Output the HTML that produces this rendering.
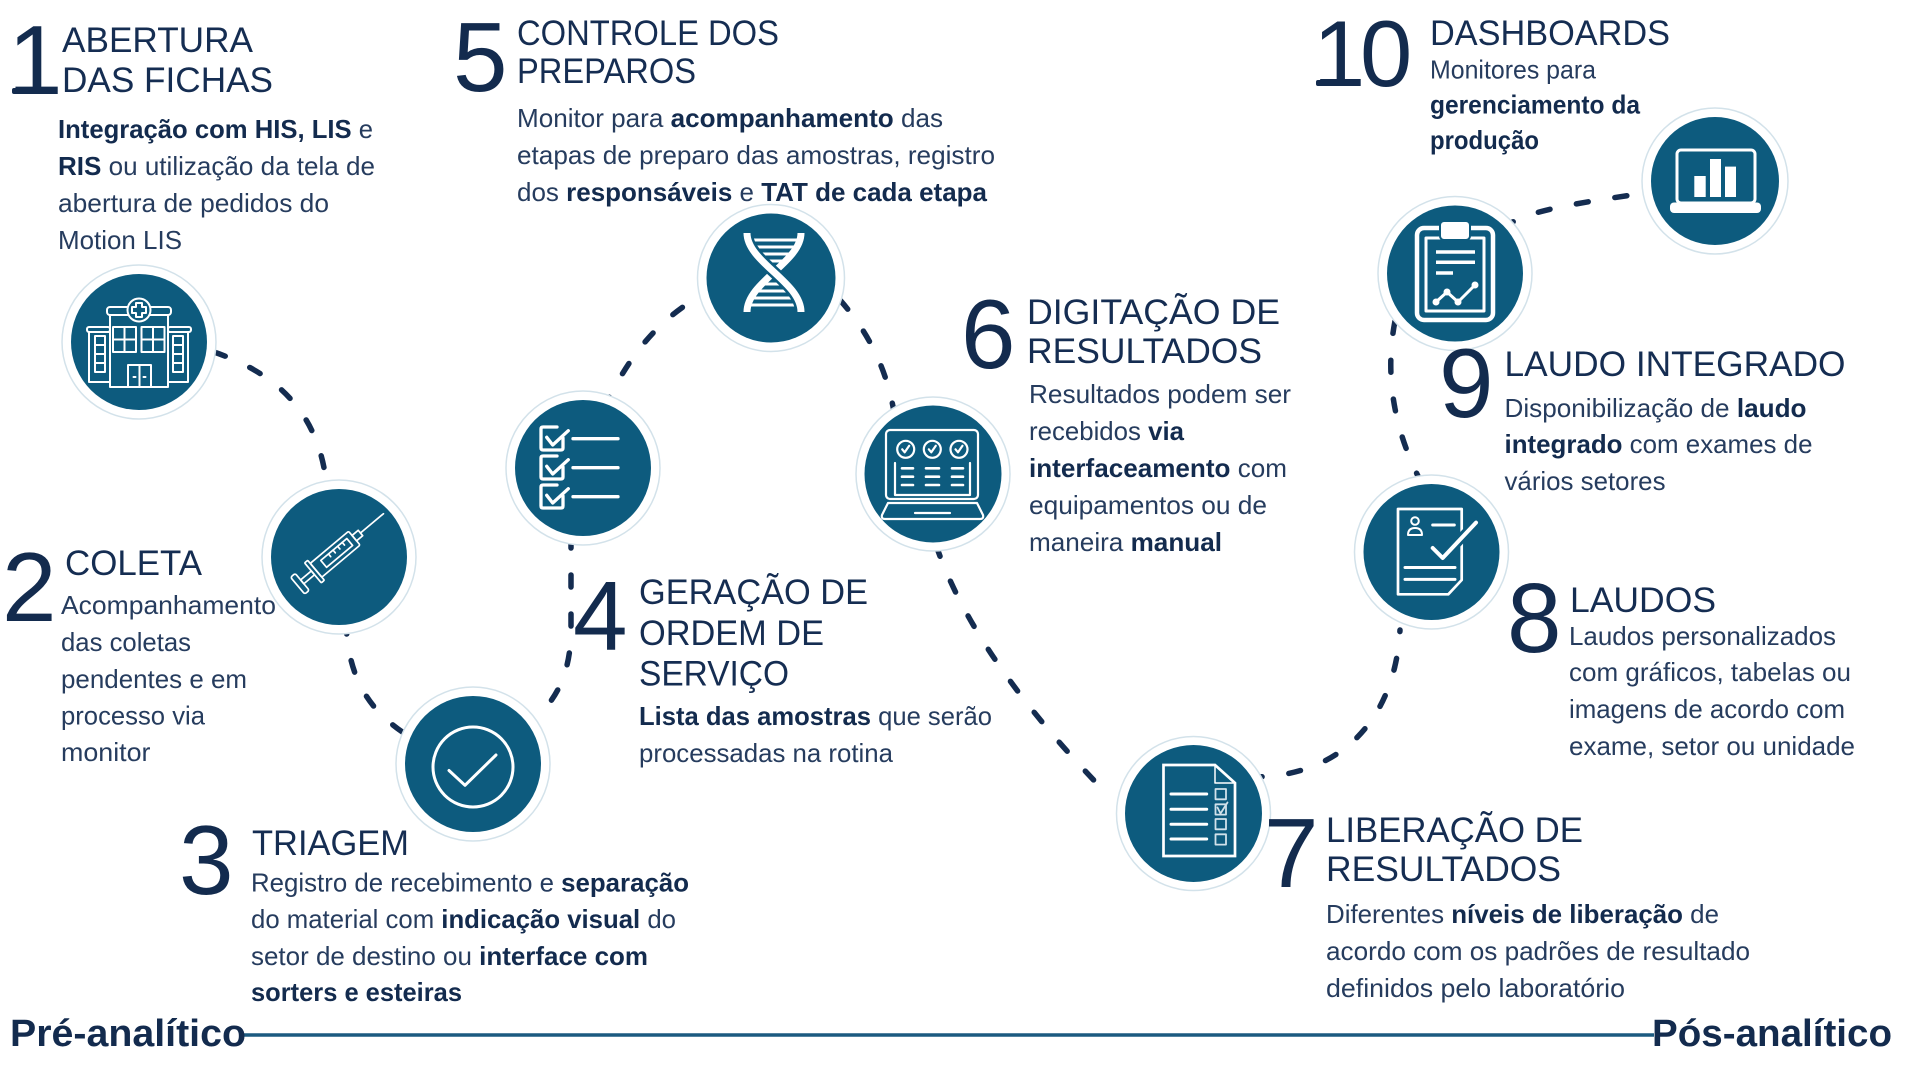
<!DOCTYPE html>
<html><head><meta charset="utf-8"><style>
html,body{margin:0;padding:0;background:#fff;width:1920px;height:1080px;overflow:hidden}
svg{display:block}
text{font-family:"Liberation Sans",Arial,sans-serif;fill:#132b4e}
.d{font-size:98px}
.t{font-size:35px;fill:#152d52}
.b{font-size:26px;fill:#263c5e}
.B{font-weight:bold;fill:#132b4e}
.f{font-size:38px;font-weight:bold}
.c{fill:none;stroke:#142c50;stroke-width:5.5;stroke-linecap:round;stroke-dasharray:12 27}
.w{fill:none;stroke:#fff;stroke-linecap:round;stroke-linejoin:round}
.ring{fill:#fff;stroke:#d3e2ea;stroke-width:1.5}
.tl{fill:#0d5b7e}
</style></head><body>
<svg width="1920" height="1080" viewBox="0 0 1920 1080" xmlns="http://www.w3.org/2000/svg">

<!-- connectors -->
<path class="c" d="M214,352 C260,368 320,400 327,490"/>
<path class="c" d="M346,622 C348,680 370,712 410,737"/>
<path class="c" d="M571,536 L571,628 C571,668 560,700 528,724"/>
<path class="c" d="M604,408 C625,365 650,325 700,296"/>
<path class="c" d="M840,300 C862,325 885,360 894,412"/>
<path class="c" d="M936,545 Q975,660 1112,799"/>
<path class="c" d="M1250,777 C1340,778 1395,720 1400,630"/>
<path class="c" d="M1422,484 Q1378,400 1396,316"/>
<path class="c" d="M1503,228 C1525,212 1560,205 1660,191"/>

<!-- circles -->
<circle class="ring" cx="139" cy="342" r="77"/><circle class="tl" cx="139" cy="342" r="68"/>
<circle class="ring" cx="339" cy="557" r="77"/><circle class="tl" cx="339" cy="557" r="68"/>
<circle class="ring" cx="473" cy="764" r="77"/><circle class="tl" cx="473" cy="764" r="68"/>
<circle class="ring" cx="583" cy="468" r="77"/><circle class="tl" cx="583" cy="468" r="68"/>
<circle class="ring" cx="771" cy="278" r="73.5"/><circle class="tl" cx="771" cy="278" r="64.5"/>
<circle class="ring" cx="933" cy="474" r="77"/><circle class="tl" cx="933" cy="474" r="68.5"/>
<circle class="ring" cx="1193.5" cy="813.5" r="77"/><circle class="tl" cx="1193.5" cy="813.5" r="68.5"/>
<circle class="ring" cx="1431.5" cy="552" r="77"/><circle class="tl" cx="1431.5" cy="552" r="68"/>
<circle class="ring" cx="1455" cy="273.5" r="77"/><circle class="tl" cx="1455" cy="273.5" r="68"/>
<circle class="ring" cx="1715" cy="181" r="73"/><circle class="tl" cx="1715" cy="181" r="64"/>

<!-- icon 1 hospital -->
<g class="w" stroke-width="2">
  <rect x="110" y="315" width="58" height="72"/>
  <rect x="107" y="307" width="64" height="8" rx="3"/>
  <rect x="113" y="327" width="23" height="25"/><path d="M124.5,327V352M113,339.5H136"/>
  <rect x="141.5" y="327" width="23" height="25"/><path d="M153,327V352M141.5,339.5H164.5"/>
  <rect x="89" y="332" width="21" height="50"/><rect x="87" y="327" width="23" height="5" rx="2"/>
  <rect x="168" y="332" width="20" height="50"/><rect x="168" y="327" width="23" height="5" rx="2"/>
  <rect x="95" y="336" width="10" height="36"/><path d="M95,345H105M95,354H105M95,363H105"/>
  <rect x="173" y="336" width="10" height="36"/><path d="M173,345H183M173,354H183M173,363H183"/>
  <rect x="128" y="365" width="23" height="22"/><path d="M139.5,365V387M133.5,377H135.5M143.5,377H145.5"/>
  <circle cx="139" cy="310" r="11.5" fill="#0d5b7e"/>
  <path d="M136,303H142V307H146V313H142V317H136V313H132V307H136Z"/>
</g>

<!-- icon 2 syringe -->
<g class="w" stroke-width="1.7" transform="translate(339,551) rotate(-40)">
  <line x1="28" y1="0" x2="58" y2="0"/>
  <rect x="20" y="-3.5" width="8" height="7"/>
  <rect x="-30" y="-9" width="50" height="18" rx="1.5"/>
  <rect x="-20" y="-4.5" width="34" height="9"/>
  <path d="M-10,-4.5V-1M-4,-4.5V-1M2,-4.5V-1M8,-4.5V-1"/>
  <rect x="-34" y="-13" width="4" height="26" rx="1"/>
  <rect x="-48" y="-2.5" width="14" height="5"/>
  <rect x="-54" y="-11" width="6" height="22" rx="2"/>
</g>

<!-- icon 3 check -->
<g class="w" stroke-width="3">
  <circle cx="473" cy="767" r="40"/>
  <polyline points="449,770.5 465,785.3 496,755"/>
</g>

<!-- icon 4 checklist -->
<g class="w" stroke-width="3.3">
  <path d="M557,427H543Q541,427 541,429V448Q541,450 543,450H561Q563,450 563,448V438"/>
  <path d="M557,456H543Q541,456 541,458V477Q541,479 543,479H561Q563,479 563,477V467"/>
  <path d="M557,485H543Q541,485 541,487V506Q541,508 543,508H561Q563,508 563,506V496"/>
  <polyline points="546.7,437.3 552.7,445 568.3,430.7"/>
  <polyline points="546.7,466.3 552.7,474 568.3,459.7"/>
  <polyline points="546.7,495.3 552.7,503 568.3,488.7"/>
  <path d="M573,438.7H618M573,467.7H618M573,496.7H618"/>
</g>

<!-- icon 5 DNA -->
<g>
  <path d="M749,240H799M752,247H796M756,254H792M761,261H787M761,284H787M756,291H792M752,298H796M749,305H799" stroke="#fff" stroke-width="3" fill="none"/>
  <path d="M801,233 C801,262 747,282 747,312" stroke="#fff" stroke-width="7" fill="none"/>
  <path d="M747,233 C747,262 801,282 801,312" stroke="#0d5b7e" stroke-width="12" fill="none"/>
  <path d="M747,233 C747,262 801,282 801,312" stroke="#fff" stroke-width="7" fill="none"/>
</g>

<!-- icon 6 monitor -->
<g class="w" stroke-width="2.2">
  <rect x="886" y="430" width="92" height="69" rx="4"/>
  <path d="M895,463V495H970V463"/>
  <path d="M888,503L882,515Q881,519 885,519H980Q984,519 983,515L977,503Z"/>
  <path d="M915,513H950"/>
  <circle cx="905.7" cy="449.3" r="8.5"/><circle cx="932.3" cy="449.3" r="8.5"/><circle cx="959" cy="449.3" r="8.5"/>
  <polyline points="902.2,449.3 904.7,452.3 909.2,445.8"/>
  <polyline points="928.8,449.3 931.3,452.3 935.8,445.8"/>
  <polyline points="955.5,449.3 958,452.3 962.5,445.8"/>
  <path stroke-width="2.6" d="M902,468.3H913M926,468.3H939M952,468.3H963M902,476.7H913M926,476.7H939M952,476.7H963M902,485H913M926,485H939M952,485H963"/>
</g>

<!-- icon 7 document -->
<g class="w" stroke-width="2.7">
  <path d="M1163.5,765H1215L1235,783V856H1163.5Z" stroke-linejoin="miter"/>
  <path d="M1215,765V783H1235" stroke-width="1.5"/>
  <path stroke-width="3" d="M1171,794H1206.7M1171,809.3H1206.7M1171,824.3H1206.7M1171,839H1206.7"/>
  <g stroke="#d0e1ea" stroke-width="1.8">
    <rect x="1215.5" y="789" width="10.5" height="10.3"/>
    <rect x="1215.5" y="804.3" width="10.5" height="10.3"/>
    <rect x="1215.5" y="819" width="10.5" height="10.3"/>
    <rect x="1215.5" y="834.3" width="10.5" height="10.3"/>
    <polyline points="1217.5,807.5 1220.5,813.5 1227.5,802.5"/>
  </g>
</g>

<!-- icon 8 report -->
<g class="w" stroke-width="2.7">
  <path d="M1398,509H1461.7V580L1448.3,594.3H1398Z"/>
  <circle cx="1415" cy="521" r="3.8" stroke-width="2"/>
  <path d="M1408,535Q1408,528 1415,528Q1422,528 1422,535Z" stroke-width="2"/>
  <path d="M1432.7,525H1454.3" stroke-width="3"/>
  <polyline points="1432.7,548 1442.7,558 1476,522.6" stroke="#0d5b7e" stroke-width="10"/>
  <polyline points="1432.7,548 1442.7,558 1476,522.6" stroke-width="4"/>
  <path d="M1405,567.5H1455M1405,579.4H1455" stroke-width="3"/>
</g>

<!-- icon 9 clipboard -->
<g class="w">
  <rect x="1417" y="228" width="76" height="92" rx="7" stroke-width="4.5"/>
  <rect x="1426" y="238" width="58" height="73" stroke-width="3"/>
  <rect x="1440" y="221" width="30" height="19" rx="4" fill="#fff" stroke="#0d5b7e" stroke-width="2"/>
  <path d="M1436,252H1475M1436,262.3H1475M1436,273H1453" stroke-width="3.5" stroke-linecap="butt"/>
  <polyline points="1436,302 1447,292 1458,302 1475,285" stroke-width="3"/>
  <g fill="#fff" stroke="none">
    <circle cx="1436" cy="302" r="3.5"/><circle cx="1447" cy="292" r="3.5"/><circle cx="1458" cy="302" r="3.5"/><circle cx="1475" cy="285" r="3.5"/>
  </g>
</g>

<!-- icon 10 laptop chart -->
<g>
  <rect x="1677" y="150" width="78" height="53" rx="4" fill="none" stroke="#fff" stroke-width="3"/>
  <rect x="1694.3" y="176" width="11.4" height="21" fill="#fff"/>
  <rect x="1710" y="159" width="11" height="38" fill="#fff"/>
  <rect x="1725" y="166.6" width="11" height="30.4" fill="#fff"/>
  <rect x="1670" y="202.5" width="91" height="10.5" rx="4" fill="#fff"/>
</g>

<!-- Section 1 -->
<text class="d" x="8" y="94">1</text>
<rect x="12" y="88" width="40" height="6" rx="2" fill="#132b4e"/>
<text class="t" x="62" y="52" textLength="191" lengthAdjust="spacingAndGlyphs">ABERTURA</text>
<text class="t" x="62" y="92" textLength="211" lengthAdjust="spacingAndGlyphs">DAS FICHAS</text>
<text class="b" x="58" y="138" textLength="315" lengthAdjust="spacingAndGlyphs"><tspan class="B">Integração com HIS, LIS</tspan> e</text>
<text class="b" x="58" y="175" textLength="317" lengthAdjust="spacingAndGlyphs"><tspan class="B">RIS</tspan> ou utilização da tela de</text>
<text class="b" x="58" y="212" textLength="271" lengthAdjust="spacingAndGlyphs">abertura de pedidos do</text>
<text class="b" x="58" y="249" textLength="124" lengthAdjust="spacingAndGlyphs">Motion LIS</text>

<!-- Section 5 -->
<text class="d" x="453" y="91">5</text>
<text class="t" x="517" y="45" textLength="262" lengthAdjust="spacingAndGlyphs">CONTROLE DOS</text>
<text class="t" x="517" y="83" textLength="179" lengthAdjust="spacingAndGlyphs">PREPAROS</text>
<text class="b" x="517" y="127" textLength="426" lengthAdjust="spacingAndGlyphs">Monitor para <tspan class="B">acompanhamento</tspan> das</text>
<text class="b" x="517" y="164" textLength="478" lengthAdjust="spacingAndGlyphs">etapas de preparo das amostras, registro</text>
<text class="b" x="517" y="201" textLength="470" lengthAdjust="spacingAndGlyphs">dos <tspan class="B">responsáveis</tspan> e <tspan class="B">TAT de cada etapa</tspan></text>

<!-- Section 6 -->
<text class="d" x="961" y="368">6</text>
<text class="t" x="1027" y="324" textLength="253" lengthAdjust="spacingAndGlyphs">DIGITAÇÃO DE</text>
<text class="t" x="1027" y="363" textLength="235" lengthAdjust="spacingAndGlyphs">RESULTADOS</text>
<text class="b" x="1029" y="403" textLength="262" lengthAdjust="spacingAndGlyphs">Resultados podem ser</text>
<text class="b" x="1029" y="440" textLength="155" lengthAdjust="spacingAndGlyphs">recebidos <tspan class="B">via</tspan></text>
<text class="b" x="1029" y="477" textLength="258" lengthAdjust="spacingAndGlyphs"><tspan class="B">interfaceamento</tspan> com</text>
<text class="b" x="1029" y="514" textLength="238" lengthAdjust="spacingAndGlyphs">equipamentos ou de</text>
<text class="b" x="1029" y="551" textLength="193" lengthAdjust="spacingAndGlyphs">maneira <tspan class="B">manual</tspan></text>

<!-- Section 4 -->
<text class="d" x="573" y="650">4</text>
<text class="t" x="639" y="604" textLength="229" lengthAdjust="spacingAndGlyphs">GERAÇÃO DE</text>
<text class="t" x="639" y="645" textLength="185" lengthAdjust="spacingAndGlyphs">ORDEM DE</text>
<text class="t" x="639" y="685.5" textLength="150" lengthAdjust="spacingAndGlyphs">SERVIÇO</text>
<text class="b" x="639" y="725" textLength="353" lengthAdjust="spacingAndGlyphs"><tspan class="B">Lista das amostras</tspan> que serão</text>
<text class="b" x="639" y="762" textLength="254" lengthAdjust="spacingAndGlyphs">processadas na rotina</text>

<!-- Section 2 -->
<text class="d" x="2" y="621">2</text>
<text class="t" x="65" y="575" textLength="137" lengthAdjust="spacingAndGlyphs">COLETA</text>
<text class="b" x="61" y="614" textLength="215" lengthAdjust="spacingAndGlyphs">Acompanhamento</text>
<text class="b" x="61" y="651" textLength="130" lengthAdjust="spacingAndGlyphs">das coletas</text>
<text class="b" x="61" y="688" textLength="186" lengthAdjust="spacingAndGlyphs">pendentes e em</text>
<text class="b" x="61" y="724.5" textLength="144" lengthAdjust="spacingAndGlyphs">processo via</text>
<text class="b" x="61" y="761" textLength="89.5" lengthAdjust="spacingAndGlyphs">monitor</text>

<!-- Section 3 -->
<text class="d" x="179" y="894">3</text>
<text class="t" x="252" y="855" textLength="157" lengthAdjust="spacingAndGlyphs">TRIAGEM</text>
<text class="b" x="251" y="891.5" textLength="438" lengthAdjust="spacingAndGlyphs">Registro de recebimento e <tspan class="B">separação</tspan></text>
<text class="b" x="251" y="928" textLength="425" lengthAdjust="spacingAndGlyphs">do material com <tspan class="B">indicação visual</tspan> do</text>
<text class="b" x="251" y="965" textLength="397" lengthAdjust="spacingAndGlyphs">setor de destino ou <tspan class="B">interface com</tspan></text>
<text class="b" x="251" y="1001" textLength="211" lengthAdjust="spacingAndGlyphs"><tspan class="B">sorters e esteiras</tspan></text>

<!-- Section 7 -->
<text class="d" x="1264" y="887">7</text>
<text class="t" x="1326" y="842" textLength="257" lengthAdjust="spacingAndGlyphs">LIBERAÇÃO DE</text>
<text class="t" x="1326" y="881" textLength="235" lengthAdjust="spacingAndGlyphs">RESULTADOS</text>
<text class="b" x="1326" y="923" textLength="393" lengthAdjust="spacingAndGlyphs">Diferentes <tspan class="B">níveis de liberação</tspan> de</text>
<text class="b" x="1326" y="960" textLength="424" lengthAdjust="spacingAndGlyphs">acordo com os padrões de resultado</text>
<text class="b" x="1326" y="997" textLength="299" lengthAdjust="spacingAndGlyphs">definidos pelo laboratório</text>

<!-- Section 8 -->
<text class="d" x="1507" y="652">8</text>
<text class="t" x="1570" y="612" textLength="146" lengthAdjust="spacingAndGlyphs">LAUDOS</text>
<text class="b" x="1569" y="645" textLength="267" lengthAdjust="spacingAndGlyphs">Laudos personalizados</text>
<text class="b" x="1569" y="681" textLength="282" lengthAdjust="spacingAndGlyphs">com gráficos, tabelas ou</text>
<text class="b" x="1569" y="718" textLength="276" lengthAdjust="spacingAndGlyphs">imagens de acordo com</text>
<text class="b" x="1569" y="755" textLength="286" lengthAdjust="spacingAndGlyphs">exame, setor ou unidade</text>

<!-- Section 9 -->
<text class="d" x="1439" y="417">9</text>
<text class="t" x="1504.5" y="376" textLength="341" lengthAdjust="spacingAndGlyphs">LAUDO INTEGRADO</text>
<text class="b" x="1504.5" y="417" textLength="302" lengthAdjust="spacingAndGlyphs">Disponibilização de <tspan class="B">laudo</tspan></text>
<text class="b" x="1504.5" y="453" textLength="308" lengthAdjust="spacingAndGlyphs"><tspan class="B">integrado</tspan> com exames de</text>
<text class="b" x="1504.5" y="490" textLength="161" lengthAdjust="spacingAndGlyphs">vários setores</text>

<!-- Section 10 -->
<text x="1313" y="86" style="font-size:94px">1</text>
<rect x="1316" y="80" width="38" height="6" rx="2" fill="#132b4e"/>
<text x="1360" y="86" style="font-size:94px">0</text>
<text class="t" x="1430" y="45" textLength="240" lengthAdjust="spacingAndGlyphs">DASHBOARDS</text>
<text class="b" x="1430" y="78.5" textLength="166" lengthAdjust="spacingAndGlyphs">Monitores para</text>
<text class="b" x="1430" y="113.6" textLength="210" lengthAdjust="spacingAndGlyphs"><tspan class="B">gerenciamento da</tspan></text>
<text class="b" x="1430" y="149" textLength="109" lengthAdjust="spacingAndGlyphs"><tspan class="B">produção</tspan></text>

<!-- Footer timeline -->
<line x1="244" y1="1035" x2="1654" y2="1035" stroke="#1b5a80" stroke-width="3.5"/>
<text class="f" x="10" y="1046" textLength="236" lengthAdjust="spacingAndGlyphs">Pré-analítico</text>
<text class="f" x="1652" y="1046" textLength="240" lengthAdjust="spacingAndGlyphs">Pós-analítico</text>
</svg>
</body></html>
